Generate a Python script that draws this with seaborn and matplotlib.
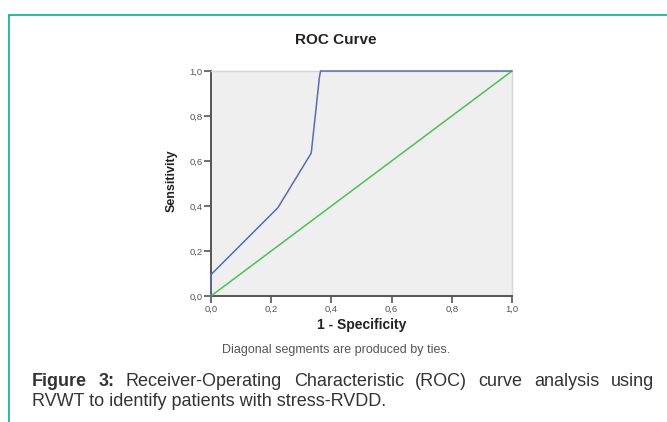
import matplotlib
matplotlib.use("Agg")
import matplotlib.pyplot as plt
import pandas as pd
import seaborn as sns

sns.set_style("white")
plt.rcParams["font.family"] = ["Liberation Sans", "DejaVu Sans"]

# ROC data
fpr = [0.0, 0.0, 0.222, 0.333, 0.360, 0.364, 1.0]
tpr = [0.0, 0.095, 0.392, 0.635, 0.97, 1.0, 1.0]
ref_x = [0.0, 1.0]
ref_y = [0.0, 1.0]
ticks = [0.0, 0.2, 0.4, 0.6, 0.8, 1.0]
tick_labels = ["0,0", "0,2", "0,4", "0,6", "0,8", "1,0"]

roc = pd.DataFrame({"fpr": fpr, "tpr": tpr})
ref = pd.DataFrame({"fpr": ref_x, "tpr": ref_y})

W, H = 667, 422
fig = plt.figure(figsize=(W / 100, H / 100), dpi=100)
ax = fig.add_axes([211 / W, 1 - 296 / H, 301 / W, 225 / H])
ax.set_facecolor("#efefef")

sns.lineplot(data=ref, x="fpr", y="tpr", ax=ax, color="#4fbf55", lw=1.1,
             sort=False, estimator=None, clip_on=False, zorder=5)
sns.lineplot(data=roc, x="fpr", y="tpr", ax=ax, color="#5a6cb2", lw=1.1,
             sort=False, estimator=None, clip_on=False, zorder=6)

ax.set_xlim(0, 1)
ax.set_ylim(0, 1)
ax.set_xticks(ticks)
ax.set_xticklabels(tick_labels, fontsize=6.8, color="#555555")
ax.set_yticks(ticks)
ax.set_yticklabels(tick_labels, fontsize=6.8, color="#555555")
ax.tick_params(bottom=True, left=True, direction="out", length=5, width=1.2,
               color="#555555", pad=1)
for s in ["left", "bottom"]:
    ax.spines[s].set_color("#555555")
    ax.spines[s].set_linewidth(1.4)
for s in ["top", "right"]:
    ax.spines[s].set_color("#d6d6d6")
    ax.spines[s].set_linewidth(1.0)
ax.set_xlabel("")
ax.set_ylabel("")

fig.text(362 / W, 1 - 325 / H, "1 - Specificity", ha="center", va="center",
         fontsize=10, fontweight="bold", color="#222222")
fig.text(172 / W, 1 - 181 / H, "Sensitivity", ha="center", va="center",
         rotation=90, fontsize=9, fontweight="bold", color="#222222",
         family=["Liberation Sans Narrow", "Liberation Sans", "DejaVu Sans"])
fig.text(336 / W, 1 - 40 / H, "ROC Curve", ha="center", va="center",
         fontsize=11, fontweight="bold", color="#222222")
fig.text(336 / W, 1 - 350 / H, "Diagonal segments are produced by ties.",
         ha="center", va="center", fontsize=9, color="#555555")

# teal frame on top and left
fig.add_artist(plt.Line2D([9 / W, 1.0], [1 - 14.5 / H, 1 - 14.5 / H],
                          color="#1db3a0", lw=1.3))
fig.add_artist(plt.Line2D([9 / W, 9 / W], [1 - 14.5 / H, 0.0],
                          color="#1db3a0", lw=1.3))

# caption, first line justified between x=32 and x=654
fig.canvas.draw()
renderer = fig.canvas.get_renderer()
words = [("Figure", "bold"), ("3:", "bold"), ("Receiver-Operating", "normal"),
         ("Characteristic", "normal"), ("(ROC)", "normal"), ("curve", "normal"),
         ("analysis", "normal"), ("using", "normal")]
x0, x1 = 32, 654
arts = []
total = 0
for w, wt in words:
    t = fig.text(0, 1 - 381 / H, w, fontsize=13, fontweight=wt, color="#333333",
                 va="center", ha="left")
    wpx = t.get_window_extent(renderer).width
    arts.append((t, wpx))
    total += wpx
gap = (x1 - x0 - total) / (len(words) - 1)
x = x0
for t, wpx in arts:
    t.set_x(x / W)
    x += wpx + gap

fig.text(x0 / W, 1 - 402 / H, "RVWT to identify patients with stress-RVDD.",
         fontsize=13, color="#333333", va="center", ha="left")

fig.savefig("out.png", dpi=100)
